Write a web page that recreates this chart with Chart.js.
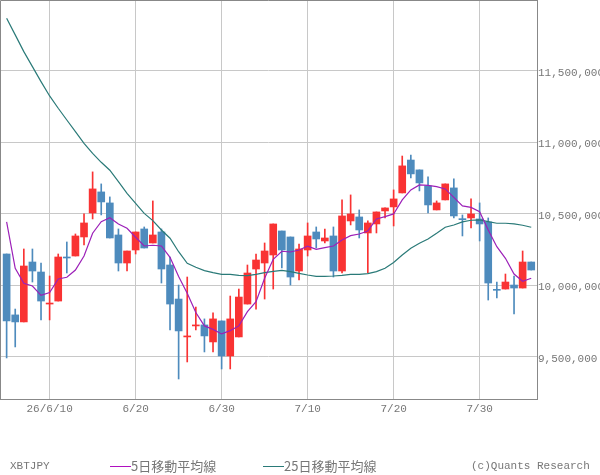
<!DOCTYPE html>
<html>
<head>
<meta charset="utf-8">
<script src="https://cdn.jsdelivr.net/npm/chart.js@4"></script>
<style>
  html, body { margin: 0; background: #fff; }
  #wrap { position: relative; width: 600px; height: 475px; overflow: hidden; }
  .foot { position: absolute; top: 458px; color: #777; font: 11px "Liberation Mono", monospace; line-height: 16px; white-space: nowrap; }
  .jp { font: 13px "Noto Sans CJK JP", sans-serif; line-height: 16px; }
  .swatch { position: absolute; top: 466px; width: 21px; height: 1px; }
</style>
</head>
<body>
<div id="wrap">
  <canvas id="chart" width="600" height="475"></canvas>
  <div class="foot" style="left:10px">XBTJPY</div>
  <div class="swatch" style="left:110px;background:#b010c0"></div>
  <div class="foot jp" style="left:131px">5日移動平均線</div>
  <div class="swatch" style="left:263px;background:#2a7a78"></div>
  <div class="foot jp" style="left:284px">25日移動平均線</div>
  <div class="foot" style="left:471px">(c)Quants Research</div>
</div>
<script>
// all prices in thousand yen, one entry per day from 26/6/5
const open = [10219,9793,9744,10163,10093,9869,9890,10198,10205,10338,10506,10653,10576,10352,10156,10247,10394,10296,10373,10142,9904,9639,9716,9723,9604,9751,9506,9639,9869,10114,10156,10212,10380,10338,10100,10247,10373,10310,10345,10100,10450,10478,10366,10429,10520,10548,10646,10876,10807,10695,10527,10597,10681,10466,10471,10464,10443,9972,9974,10002,9981,10163];
const close = [9751,9744,10135,10100,9890,9876,10198,10191,10345,10436,10674,10583,10331,10156,10240,10373,10261,10352,10114,9869,9681,9646,9723,9646,9765,9506,9765,9918,10086,10177,10240,10429,10247,10058,10254,10345,10324,10331,10100,10485,10499,10387,10436,10513,10541,10604,10835,10779,10716,10562,10576,10709,10485,10459,10499,10429,10016,9965,10023,9981,10163,10107];
const high = [10219,9834,10254,10254,10156,10065,10219,10303,10359,10499,10793,10709,10618,10394,10240,10373,10408,10590,10394,10198,10002,10058,9848,9765,9807,9751,9925,9974,10142,10219,10296,10429,10380,10338,10289,10436,10408,10394,10408,10597,10632,10527,10450,10513,10541,10667,10904,10911,10807,10758,10590,10709,10744,10492,10604,10576,10471,10023,10079,10065,10240,10163];
const low = [9492,9569,9744,10023,9758,9758,9890,10086,10205,10282,10464,10492,10331,10100,10100,10219,10261,10296,10016,9688,9345,9464,9688,9534,9534,9415,9415,9639,9869,9834,9904,9974,10121,10002,10037,10205,10261,10296,10058,10086,10422,10331,10086,10366,10471,10415,10646,10751,10660,10506,10527,10597,10471,10345,10401,10310,9897,9911,9974,9800,9981,10107];
const ma5 = [10443,10119,10014,9995,9930,9949,10044,10056,10107,10205,10364,10445,10473,10429,10399,10336,10275,10280,10275,10196,10061,9944,9810,9716,9692,9660,9683,9716,9816,9886,10049,10182,10238,10233,10247,10273,10252,10263,10275,10317,10347,10359,10380,10464,10480,10499,10597,10667,10702,10699,10690,10674,10615,10555,10545,10515,10387,10270,10189,10079,10028,10049];
const ma25 = [11867,11751,11634,11529,11424,11324,11238,11156,11075,10993,10923,10860,10805,10725,10643,10573,10503,10452,10387,10329,10235,10154,10126,10103,10089,10077,10077,10070,10068,10077,10089,10098,10105,10096,10084,10072,10063,10063,10065,10070,10077,10077,10082,10096,10119,10159,10212,10259,10294,10324,10364,10406,10422,10443,10455,10457,10445,10434,10434,10429,10420,10406];
const dateTicks = [5, 15, 25, 35, 45, 55];
const dateLabels = ["26/6/10", "6/20", "6/30", "7/10", "7/20", "7/30"];
const priceTicks = [9500, 10000, 10500, 11000, 11500];
const priceLabels = ["9,500,000", "10,000,000", "10,500,000", "11,000,000", "11,500,000"];

const upColor = "#f93333";
const downColor = "#4e8bbd";
const candleColors = open.map((o, i) => (close[i] >= o ? upColor : downColor));

function toBars(a, b) {
  return a.map((v, i) => ({ x: i, y: [v, b[i]] }));
}
function toLine(values) {
  return values.map((v, i) => ({ x: i, y: v }));
}

// left and top edge of the frame, the axes only draw right and bottom
const framePlugin = {
  id: "frame",
  afterDraw(chart) {
    const { ctx, chartArea: a } = chart;
    ctx.save();
    ctx.strokeStyle = "#888";
    ctx.lineWidth = 1;
    ctx.beginPath();
    ctx.moveTo(a.left + 0.5, a.bottom);
    ctx.lineTo(a.left + 0.5, a.top + 0.5);
    ctx.lineTo(a.right, a.top + 0.5);
    ctx.stroke();
    ctx.restore();
  }
};

new Chart(document.getElementById("chart").getContext("2d"), {
  type: "bar",
  plugins: [framePlugin],
  data: {
    datasets: [
      { type: "line", data: toLine(ma25), borderColor: "#2a7a78", borderWidth: 1.2, pointRadius: 0, tension: 0, order: 1 },
      { type: "line", data: toLine(ma5), borderColor: "#9c20b8", borderWidth: 1.2, pointRadius: 0, tension: 0, order: 0 },
      { data: toBars(open, close), backgroundColor: candleColors, barThickness: 7, grouped: false, order: 2 },
      { data: toBars(low, high), backgroundColor: candleColors, barThickness: 1, grouped: false, order: 3 }
    ]
  },
  options: {
    responsive: false,
    animation: false,
    layout: { padding: 0 },
    plugins: { legend: { display: false }, tooltip: { enabled: false } },
    scales: {
      x: {
        type: "linear",
        offset: false,
        min: -0.77,
        max: 61.67,
        afterBuildTicks(scale) {
          scale.ticks = dateTicks.map(v => ({ value: v }));
        },
        afterFit(scale) {
          scale.height = 76;
          scale.paddingLeft = 0;
          scale.paddingRight = 0;
        },
        grid: { color: "#c8c8c8", drawTicks: false, offset: false },
        border: { color: "#888" },
        ticks: {
          autoSkip: false,
          maxRotation: 0,
          padding: 3,
          color: "#777",
          font: { family: "Liberation Mono", size: 11 },
          callback: value => dateLabels[dateTicks.indexOf(value)]
        }
      },
      y: {
        position: "right",
        min: 9205,
        max: 11995,
        afterBuildTicks(scale) {
          scale.ticks = priceTicks.map(v => ({ value: v }));
        },
        afterFit(scale) {
          scale.width = 63;
          scale.paddingTop = 0;
          scale.paddingBottom = 0;
        },
        grid: { color: "#c8c8c8", drawTicks: false },
        border: { color: "#888" },
        ticks: {
          autoSkip: false,
          padding: 1,
          labelOffset: 2,
          color: "#777",
          font: { family: "Liberation Mono", size: 11 },
          callback: value => priceLabels[priceTicks.indexOf(value)]
        }
      }
    }
  }
});
</script>
</body>
</html>
